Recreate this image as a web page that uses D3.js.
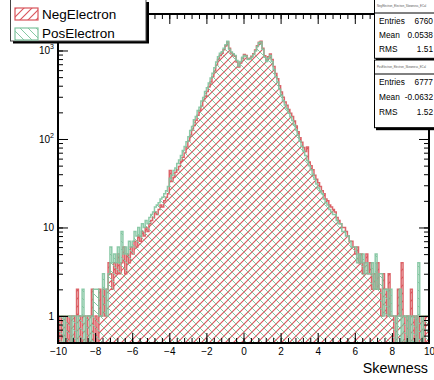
<!DOCTYPE html>
<html>
<head>
<meta charset="utf-8">
<script src="https://cdn.jsdelivr.net/npm/d3@7"></script>
<style>
  html, body { margin: 0; padding: 0; background: #fff; }
  svg { display: block; font-family: "Liberation Sans", Arial, Helvetica, sans-serif; }
</style>
</head>
<body>
<svg id="chart" width="434" height="380"></svg>
<script>
// Histogram binning: 200 bins over [-10, 10]
const xRange = [-10, 10];

// Bin contents, NegElectron
const negElectron = [
  1,0,1,1,0,1,0,1,1,0,
  2,1,0,1,1,0,1,1,2,0,
  1,0,2,1,2,1,2,4,3,2,
  4,3,5,3,4,6,3,5,4,6,
  5,7,6,8,7,9,8,10,9,11,
  12,13,15,14,16,18,17,20,22,24,
  44,33,37,42,45,49,56,62,70,80,
  95,108,126,142,163,186,210,236,270,305,
  345,390,440,505,580,680,790,880,930,1020,
  1130,1250,1060,940,900,860,740,650,720,820,
  900,880,800,820,860,920,1010,1130,1240,1270,
  1060,870,780,850,910,790,660,550,480,400,
  340,296,262,240,215,196,180,160,140,121,
  103,92,80,72,81,55,50,45,39,35,
  32,29,26,24,21,20,18,17,16,15,
  13,12,11,10,10,9,8,7,7,6,
  5,6,4,5,3,4,5,3,4,2,
  3,2,4,2,1,3,2,1,3,1,
  1,0,1,2,1,4,1,0,1,0,
  2,1,0,1,0,1,1,0,1,1
];

// Bin contents, PosElectron
const posElectron = [
  1,1,1,0,1,1,1,0,1,1,
  0,1,1,2,0,1,1,0,1,2,
  2,2,1,1,3,2,1,3,6,4,
  5,4,6,4,9,5,6,5,7,6,
  7,9,8,10,8,11,10,12,11,13,
  14,15,17,18,19,21,22,24,26,29,
  36,39,44,47,53,58,65,74,82,93,
  106,125,138,165,180,210,228,268,295,345,
  380,430,490,555,640,740,850,930,970,1060,
  1160,1270,1030,960,920,880,770,670,750,840,
  880,860,790,800,840,900,990,1110,1220,1250,
  1030,840,750,820,880,750,610,505,440,365,
  312,270,242,220,195,178,162,144,126,110,
  94,83,73,65,57,50,45,40,35,31,
  28,26,24,21,19,18,16,15,14,14,
  12,11,11,9,9,8,8,7,6,6,
  6,4,5,4,5,3,4,3,3,4,
  2,5,2,3,3,1,2,2,1,2,
  1,1,0,1,2,0,1,1,0,1,
  0,1,1,0,4,1,0,1,1,1
];

const seriesNames = ["NegElectron", "PosElectron"];
const histNames = ["NegElectron_Electron_Skewness_ECal", "PosElectron_Electron_Skewness_ECal"];
const statLabels = ["Entries", "Mean", "RMS"];
const negStats = ["6760", "0.0538", "1.51"];
const posStats = ["6777", "-0.0632", "1.52"];
const xTickLabels = [-10, -8, -6, -4, -2, 0, 2, 4, 6, 8, 10];
const yTickLabels = [1, 10, 100, 1000];
const yDomain = [0.495, 2585];
const xTitle = "Skewness";

const colors = { neg: "#d8545a", pos: "#7fc49e", negHatch: "#da555c", posHatch: "#86c8a3" };

const svg = d3.select("#chart");
const frame = { left: 58, right: 429, top: 14, bottom: 343 };

const x = d3.scaleLinear().domain(xRange).range([frame.left, frame.right]);
const y = d3.scaleLog().domain(yDomain).range([frame.bottom, frame.top]);

const defs = svg.append("defs");
function hatch(id, color, rising, width) {
  const p = defs.append("pattern").attr("id", id)
    .attr("patternUnits", "userSpaceOnUse").attr("width", 8).attr("height", 8);
  p.append("path")
    .attr("d", rising ? "M-2,2L2,-2M0,8L8,0M6,10L10,6" : "M-2,6L2,10M0,0L8,8M6,-2L10,2")
    .attr("stroke", color).attr("stroke-width", width).attr("fill", "none");
}
hatch("hatchNeg", colors.negHatch, true, 1.15);
hatch("hatchPos", colors.posHatch, false, 1);

defs.append("clipPath").attr("id", "frameClip").append("rect")
  .attr("x", frame.left).attr("y", frame.top)
  .attr("width", frame.right - frame.left).attr("height", frame.bottom - frame.top);

// Step outline / filled area for each histogram
function stepPoints(values) {
  const n = values.length;
  const w = (xRange[1] - xRange[0]) / n;
  const pts = [[xRange[0], 0]];
  values.forEach((v, i) => pts.push([xRange[0] + i * w, v]));
  pts.push([xRange[1], values[n - 1]]);
  pts.push([xRange[1], 0]);
  return pts;
}
const yv = v => (v > 0 ? y(v) : frame.bottom);
const area = d3.area().curve(d3.curveStepAfter)
  .x(d => x(d[0])).y0(frame.bottom).y1(d => yv(d[1]));
const line = d3.line().curve(d3.curveStepAfter)
  .x(d => x(d[0])).y(d => yv(d[1]));

const plot = svg.append("g").attr("clip-path", "url(#frameClip)");
[[negElectron, "url(#hatchNeg)", colors.neg], [posElectron, "url(#hatchPos)", colors.pos]]
  .forEach(([vals, fill, stroke]) => {
    const pts = stepPoints(vals);
    plot.append("path").attr("d", area(pts)).attr("fill", fill);
    plot.append("path").attr("d", line(pts)).attr("fill", "none")
      .attr("stroke", stroke).attr("stroke-width", 1.5).attr("stroke-opacity", 0.9);
  });

// Axes and ticks
const minorX = d3.range(-10, 10.001, 0.4).map(v => +v.toFixed(2));
const yMinor = [];
for (let e = -1; e <= 3; e++) for (let m = 1; m <= 9; m++) {
  const v = m * Math.pow(10, e);
  if (v >= yDomain[0] && v <= yDomain[1]) yMinor.push(v);
}

function styleAxis(g) {
  g.select(".domain").remove();
  g.selectAll(".tick line").attr("stroke", "#000").attr("stroke-width", 1);
}

svg.append("g").attr("transform", `translate(0,${frame.bottom})`)
  .call(d3.axisBottom(x).tickValues(minorX).tickSize(-5).tickFormat("")).call(styleAxis);
const xAxis = svg.append("g").attr("transform", `translate(0,${frame.bottom})`)
  .call(d3.axisBottom(x).tickValues(xTickLabels).tickSize(-10).tickPadding(5).tickFormat(d3.format("d")))
  .call(styleAxis);
xAxis.selectAll("text").attr("font-size", 10).attr("fill", "#000")
  .attr("font-family", "Liberation Sans, Arial, sans-serif");

svg.append("g").attr("transform", `translate(0,${frame.top})`)
  .call(d3.axisTop(x).tickValues(minorX).tickSize(-5).tickFormat("")).call(styleAxis);
svg.append("g").attr("transform", `translate(0,${frame.top})`)
  .call(d3.axisTop(x).tickValues(xTickLabels).tickSize(-10).tickFormat("")).call(styleAxis);

svg.append("g").attr("transform", `translate(${frame.left},0)`)
  .call(d3.axisLeft(y).tickValues(yMinor).tickSize(-5).tickFormat("")).call(styleAxis);
const yAxis = svg.append("g").attr("transform", `translate(${frame.left},0)`)
  .call(d3.axisLeft(y).tickValues(yTickLabels).tickSize(-10).tickPadding(4).tickFormat(d3.format("d")))
  .call(styleAxis);
yAxis.selectAll("text").attr("font-size", 10).attr("fill", "#000")
  .attr("font-family", "Liberation Sans, Arial, sans-serif")
  .each(function (d) {
    if (d >= 100) {
      const t = d3.select(this);
      t.text("10");
      t.append("tspan").attr("dy", -5).attr("font-size", 7).text(Math.round(Math.log10(d)));
    }
  });

svg.append("g").attr("transform", `translate(${frame.right},0)`)
  .call(d3.axisRight(y).tickValues(yMinor).tickSize(-5).tickFormat("")).call(styleAxis);
svg.append("g").attr("transform", `translate(${frame.right},0)`)
  .call(d3.axisRight(y).tickValues(yTickLabels).tickSize(-10).tickFormat("")).call(styleAxis);

// Frame
svg.append("rect").attr("x", frame.left).attr("y", frame.top)
  .attr("width", frame.right - frame.left).attr("height", frame.bottom - frame.top)
  .attr("fill", "none").attr("stroke", "#000").attr("stroke-width", 2);

// Axis title
svg.append("text").attr("x", frame.right - 1).attr("y", 373).attr("text-anchor", "end")
  .attr("font-size", 14.3).attr("fill", "#000").text(xTitle);

// Legend
const leg = svg.append("g");
leg.append("rect").attr("x", 13).attr("y", 2).attr("width", 136).attr("height", 41.5).attr("fill", "#000");
leg.append("rect").attr("x", 10.5).attr("y", -1).attr("width", 135.5).attr("height", 42)
  .attr("fill", "#fff").attr("stroke", "#444").attr("stroke-width", 1);
[["url(#hatchNeg)", colors.neg, 8, 14], ["url(#hatchPos)", colors.pos, 28, 33]].forEach(([f, s, ry, ty], i) => {
  leg.append("rect").attr("x", 15).attr("y", ry).attr("width", 23).attr("height", 12)
    .attr("fill", f).attr("stroke", s).attr("stroke-width", 1.2);
  leg.append("text").attr("x", 42).attr("y", ty).attr("dy", "0.36em")
    .attr("font-size", 13.5).attr("fill", "#000").text(seriesNames[i]);
});

// Statistics boxes
function statsBox(top, height, rowStep, name, values) {
  const g = svg.append("g");
  g.append("rect").attr("x", 376).attr("y", top + 2).attr("width", 70).attr("height", height + 0.5).attr("fill", "#000");
  g.append("rect").attr("x", 374.5).attr("y", top).attr("width", 70).attr("height", height)
    .attr("fill", "#fff").attr("stroke", "#000").attr("stroke-width", 1);
  g.append("text").attr("x", 377).attr("y", top + 8).attr("font-size", 2.8).attr("fill", "#555").text(name);
  g.append("line").attr("x1", 374.5).attr("x2", 444).attr("y1", top + 14).attr("y2", top + 14)
    .attr("stroke", "#000").attr("stroke-width", 1);
  statLabels.forEach((lab, i) => {
    const yy = top + 25 + i * rowStep;
    g.append("text").attr("x", 379).attr("y", yy).attr("font-size", 8.3).attr("fill", "#000").text(lab);
    g.append("text").attr("x", 433).attr("y", yy).attr("text-anchor", "end").attr("font-size", 8.3)
      .attr("fill", "#000").text(values[i]);
  });
}
statsBox(-1, 59.3, 14, histNames[0], negStats);
statsBox(60, 67.7, 15, histNames[1], posStats);
</script>
</body>
</html>
